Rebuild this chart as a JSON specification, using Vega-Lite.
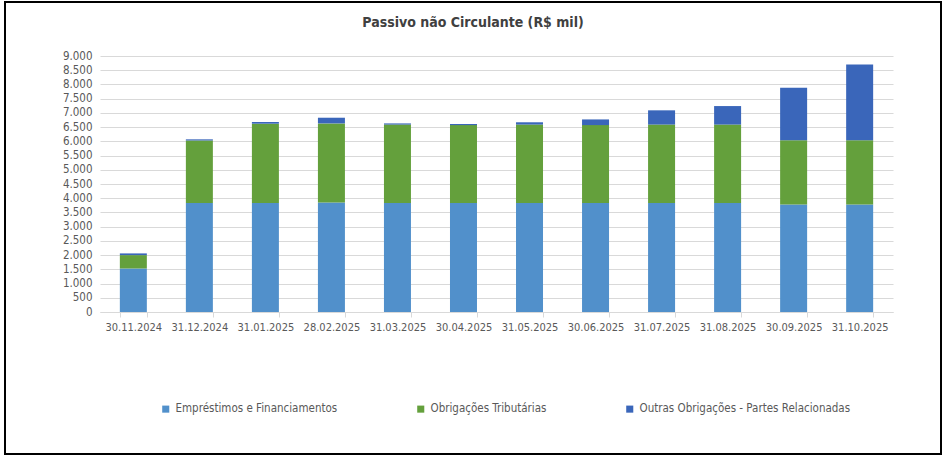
{
  "$schema": "https://vega.github.io/schema/vega-lite/v6.json",
  "width": 936,
  "height": 452,
  "autosize": "none",
  "padding": {"left": 5, "top": 2, "right": 1, "bottom": 3},
  "background": "white",
  "config": {
    "view": {"stroke": "#000000", "strokeWidth": 2},
    "font": "Liberation Sans Narrow, DejaVu Sans Condensed, sans-serif"
  },
  "title": {
    "text": "Passivo não Circulante (R$ mil)",
    "fontSize": 14,
    "fontWeight": "bold",
    "color": "#404040",
    "anchor": "middle",
    "baseline": "middle",
    "offset": -35
  },
  "data": {
    "values": [
      {"data": "30.11.2024", "serie": "Empréstimos e Financiamentos", "valor": 1530},
      {"data": "30.11.2024", "serie": "Obrigações Tributárias", "valor": 470},
      {"data": "30.11.2024", "serie": "Outras Obrigações - Partes Relacionadas", "valor": 60},
      {"data": "31.12.2024", "serie": "Empréstimos e Financiamentos", "valor": 3830},
      {"data": "31.12.2024", "serie": "Obrigações Tributárias", "valor": 2200},
      {"data": "31.12.2024", "serie": "Outras Obrigações - Partes Relacionadas", "valor": 40},
      {"data": "31.01.2025", "serie": "Empréstimos e Financiamentos", "valor": 3830},
      {"data": "31.01.2025", "serie": "Obrigações Tributárias", "valor": 2790},
      {"data": "31.01.2025", "serie": "Outras Obrigações - Partes Relacionadas", "valor": 60},
      {"data": "28.02.2025", "serie": "Empréstimos e Financiamentos", "valor": 3850},
      {"data": "28.02.2025", "serie": "Obrigações Tributárias", "valor": 2780},
      {"data": "28.02.2025", "serie": "Outras Obrigações - Partes Relacionadas", "valor": 200},
      {"data": "31.03.2025", "serie": "Empréstimos e Financiamentos", "valor": 3830},
      {"data": "31.03.2025", "serie": "Obrigações Tributárias", "valor": 2760},
      {"data": "31.03.2025", "serie": "Outras Obrigações - Partes Relacionadas", "valor": 40},
      {"data": "30.04.2025", "serie": "Empréstimos e Financiamentos", "valor": 3830},
      {"data": "30.04.2025", "serie": "Obrigações Tributárias", "valor": 2740},
      {"data": "30.04.2025", "serie": "Outras Obrigações - Partes Relacionadas", "valor": 40},
      {"data": "31.05.2025", "serie": "Empréstimos e Financiamentos", "valor": 3830},
      {"data": "31.05.2025", "serie": "Obrigações Tributárias", "valor": 2760},
      {"data": "31.05.2025", "serie": "Outras Obrigações - Partes Relacionadas", "valor": 80},
      {"data": "30.06.2025", "serie": "Empréstimos e Financiamentos", "valor": 3830},
      {"data": "30.06.2025", "serie": "Obrigações Tributárias", "valor": 2740},
      {"data": "30.06.2025", "serie": "Outras Obrigações - Partes Relacionadas", "valor": 200},
      {"data": "31.07.2025", "serie": "Empréstimos e Financiamentos", "valor": 3830},
      {"data": "31.07.2025", "serie": "Obrigações Tributárias", "valor": 2760},
      {"data": "31.07.2025", "serie": "Outras Obrigações - Partes Relacionadas", "valor": 500},
      {"data": "31.08.2025", "serie": "Empréstimos e Financiamentos", "valor": 3830},
      {"data": "31.08.2025", "serie": "Obrigações Tributárias", "valor": 2760},
      {"data": "31.08.2025", "serie": "Outras Obrigações - Partes Relacionadas", "valor": 650},
      {"data": "30.09.2025", "serie": "Empréstimos e Financiamentos", "valor": 3780},
      {"data": "30.09.2025", "serie": "Obrigações Tributárias", "valor": 2260},
      {"data": "30.09.2025", "serie": "Outras Obrigações - Partes Relacionadas", "valor": 1840},
      {"data": "31.10.2025", "serie": "Empréstimos e Financiamentos", "valor": 3780},
      {"data": "31.10.2025", "serie": "Obrigações Tributárias", "valor": 2260},
      {"data": "31.10.2025", "serie": "Outras Obrigações - Partes Relacionadas", "valor": 2660}
    ]
  },
  "mark": {"type": "bar", "width": 27},
  "encoding": {
    "x": {
      "field": "data",
      "type": "ordinal",
      "sort": null,
      "scale": {"range": [95, 888], "paddingInner": 0.59, "paddingOuter": 0.3},
      "axis": {
        "title": null,
        "offset": -142,
        "labelAngle": 0,
        "labelFontSize": 11,
        "labelColor": "#595959",
        "labelPadding": 4,
        "domainColor": "#D9D9D9",
        "tickColor": "#D9D9D9",
        "tickSize": 5,
        "tickBand": "extent",
        "grid": false
      }
    },
    "y": {
      "field": "valor",
      "type": "quantitative",
      "stack": "zero",
      "scale": {"domain": [0, 9000], "range": [310, 54], "nice": false},
      "axis": {
        "title": null,
        "offset": -90,
        "values": [0, 500, 1000, 1500, 2000, 2500, 3000, 3500, 4000, 4500, 5000, 5500, 6000, 6500, 7000, 7500, 8000, 8500, 9000],
        "labelExpr": "replace(format(datum.value, ',d'), ',', '.')",
        "labelFontSize": 11.5,
        "labelColor": "#595959",
        "labelPadding": 3,
        "domain": false,
        "ticks": false,
        "grid": true,
        "gridColor": "#D9D9D9"
      }
    },
    "order": {"field": "serie", "type": "nominal", "sort": "ascending"},
    "color": {
      "field": "serie",
      "type": "nominal",
      "scale": {
        "domain": ["Empréstimos e Financiamentos", "Obrigações Tributárias", "Outras Obrigações - Partes Relacionadas"],
        "range": ["#5190CB", "#64A03C", "#3A66BA"]
      },
      "legend": {
        "title": null,
        "orient": "none",
        "legendX": 155,
        "legendY": 401,
        "direction": "horizontal",
        "columns": 3,
        "columnPadding": 77,
        "symbolType": "square",
        "symbolSize": 50,
        "symbolStrokeWidth": 0,
        "labelFontSize": 11.5,
        "labelColor": "#595959",
        "labelLimit": 0
      }
    }
  }
}
